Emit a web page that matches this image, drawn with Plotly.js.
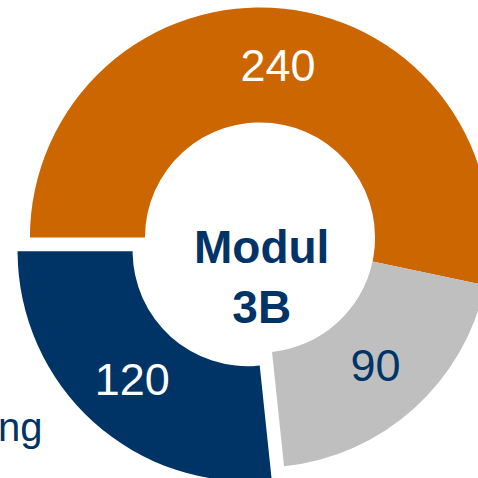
<!DOCTYPE html>
<html>
<head>
<meta charset="utf-8">
<script src="https://cdn.plot.ly/plotly-3.0.1.min.js"></script>
<style>
  html, body { margin: 0; padding: 0; width: 478px; height: 478px; overflow: hidden; background: #ffffff; }
  #chart { position: absolute; left: 0px; top: -11.5px; width: 520px; height: 497px; }
</style>
</head>
<body>
<div id="chart"></div>
<script>
const categories = ["A", "B", "C"];
const values = [240, 90, 120];
const colors = ["#CC6600", "#BFBFBF", "#003366"];
const textColors = ["#FFFFFF", "#003366", "#FFFFFF"];
const pulls = [0, 0, 0.08];
const centerLabel = "Modul<br>3B";
const sideLabel = "ng";

const trace = {
  type: "pie",
  labels: categories,
  values: values,
  sort: false,
  direction: "clockwise",
  rotation: -90,
  hole: 0.5,
  pull: pulls,
  marker: { colors: colors, line: { width: 0 } },
  textinfo: "value",
  textposition: "inside",
  insidetextorientation: "horizontal",
  textfont: { family: "Liberation Sans, Arial, sans-serif", size: 45, color: textColors },
  hoverinfo: "none",
  showlegend: false,
  domain: { x: [0.0221, 0.9779], y: [0, 1] }
};

const layout = {
  width: 520,
  height: 497,
  margin: { l: 0, r: 0, t: 0, b: 0 },
  paper_bgcolor: "#ffffff",
  showlegend: false,
  annotations: [
    {
      text: centerLabel,
      x: 0.502, y: 0.4215, xref: "paper", yref: "paper",
      xanchor: "center", yanchor: "middle",
      showarrow: false,
      font: { family: "Liberation Sans, Arial, sans-serif", size: 46, color: "#003366", weight: "bold" }
    },
    {
      text: sideLabel,
      x: 0.0865, y: 0.118, xref: "paper", yref: "paper",
      xanchor: "right", yanchor: "middle",
      showarrow: false,
      font: { family: "Liberation Sans, Arial, sans-serif", size: 40, color: "#003366" }
    }
  ]
};

Plotly.newPlot("chart", [trace], layout, { displayModeBar: false, staticPlot: true });
</script>
</body>
</html>
